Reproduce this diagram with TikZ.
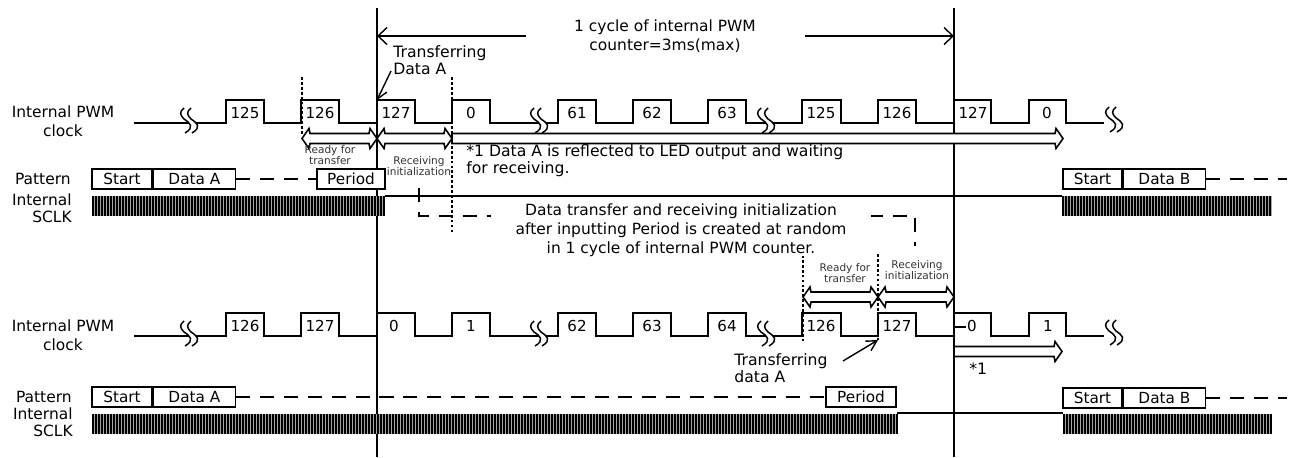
\documentclass[tikz,border=0pt]{standalone}
\usepackage{fontspec}
\setmainfont{DejaVu Sans}
\usetikzlibrary{arrows.meta,positioning,calc}
\tikzset{
  lbl/.style={inner sep=0pt,align=center,font=\fontsize{8.8}{10.8}\selectfont},
  leftlbl/.style={lbl,align=left,anchor=west,font=\fontsize{8.9}{9.6}\selectfont},
  tinylbl/.style={inner sep=0pt,align=center,text=black!80,font=\fontsize{6}{6.2}\selectfont},
  cnt/.style={inner sep=0pt,font=\fontsize{8.6}{10}\selectfont},
  wave/.style={line width=.8pt},
  vline/.style={line width=.8pt},
  dotline/.style={line width=.75pt,dash pattern=on 1.6pt off 1.2pt},
  gapline/.style={line width=.8pt,dash pattern=on 8pt off 5.6pt},
  dimarrow/.style={line width=.8pt,-{Straight Barb[length=.18cm,width=.34cm]}},
  ptr/.style={line width=.8pt,-{Straight Barb[length=.2cm,width=.22cm]}},
  hollow/.style={line width=.9pt,fill=white},
  datbox/.style={draw,fill=white,line width=.8pt,inner sep=0pt,minimum height=.4cm,font=\fontsize{8.7}{10}\selectfont},
  squig/.pic={
    \fill[white] (-6,-13) .. controls (-11,-9) and (-10,-6) .. (-6,-2) .. controls (0,2) and (5,6) .. (-5,12) -- (2,12) .. controls (12,6) and (7,2) .. (1,-2) .. controls (-3,-6) and (-4,-9) .. (1,-13) -- cycle;
    \draw[line width=.85pt] (-6,-13) .. controls (-11,-9) and (-10,-6) .. (-6,-2) .. controls (0,2) and (5,6) .. (-5,12);
    \draw[line width=.85pt] (1,-13) .. controls (-4,-9) and (-3,-6) .. (1,-2) .. controls (7,2) and (12,6) .. (2,12);
  }
}
\newcommand{\sclk}[3]{%
  \fill[black!35] (#1,#3) rectangle (#2,#3+20);
  \pgfmathsetmacro{\sclkb}{#1+3}
  \foreach \x in {#1,\sclkb,...,#2} \draw[line width=.65pt] (\x,#3) -- (\x,#3+20);
}
\newcommand{\harrowboth}[2]{%
  \draw[hollow] (#1) -- ($(#1)+(7,-10)$) -- ($(#1)+(8,-5)$) -- ($(#2)+(-8,-5)$) -- ($(#2)+(-7,-10)$) -- (#2) -- ($(#2)+(-7,10)$) -- ($(#2)+(-8,5)$) -- ($(#1)+(8,5)$) -- ($(#1)+(7,10)$) -- cycle;
}
\newcommand{\harrowright}[2]{%
  \draw[hollow] ($(#1)+(0,-5)$) -- ($(#2)+(-8,-5)$) -- ($(#2)+(-7,-10)$) -- (#2) -- ($(#2)+(-7,10)$) -- ($(#2)+(-8,5)$) -- ($(#1)+(0,5)$) -- cycle;
}
\begin{document}
\begin{tikzpicture}[x=.02cm,y=-.02cm]
\useasboundingbox (0,0) rectangle (1290,457);
% cycle borders
\coordinate (At) at (377,8);
\coordinate (Ab) at (377,457);
\coordinate (Bt) at (954,8);
\coordinate (Bb) at (954,457);
\draw[vline] (At) -- (Ab);
\draw[vline] (Bt) -- (Bb);
% upper clock
\draw[wave] (134,123) -- (226,123) |- (264,100) |- (301,123) |- (339,100) |- (377,123) |- (415,100) |- (452,123) |- (490,100) |- (558,123) |- (596,100) |- (633,123) |- (671,100) |- (708,123) |- (746,100) |- (802,123) |- (841,100) |- (878,123) |- (916,100) |- (954,123) |- (991,100) |- (1029,123) |- (1066,100) |- (1104,123);
\foreach \x/\t [count=\i] in {245/125,320/126,396/127,471/0,577/61,652/62,727/63,821/125,897/126,973/127,1047/0}
  \node[cnt] (up\i) at (\x,113) {\t};
\path (190,121) pic {squig};
\path (540,121) pic {squig};
\path (767,121) pic {squig};
\path (1115,120) pic {squig};
% lower clock
\draw[wave] (134,336) -- (226,336) |- (264,313) |- (301,336) |- (339,313) |- (377,336) |- (415,313) |- (452,336) |- (490,313) |- (558,336) |- (596,313) |- (633,336) |- (671,313) |- (708,336) |- (746,313) |- (802,336) |- (841,313) |- (878,336) |- (916,313) |- (954,336) |- (991,313) |- (1029,336) |- (1066,313) |- (1104,336);
\foreach \x/\t [count=\i] in {245/126,320/127,394/0,471/1,577/62,652/63,727/64,821/126,897/127,972/0,1048/1}
  \node[cnt] (lo\i) at (\x,326) {\t};
\path (190,334) pic {squig};
\path (540,334) pic {squig};
\path (767,334) pic {squig};
\path (1115,333) pic {squig};
\draw[wave] (954,327) -- (966,327);
% dotted marks
\draw[dotline] (302,77) -- (302,134);
\draw[dotline] (452,77) -- (452,232);
\draw[dotline] (803,255) -- (803,343);
\draw[dotline] (878,254) -- (878,342);
% left labels
\node[lbl] (pwma) at (63,121) {Internal PWM\\clock};
\node[lbl] (pwmb) at (63,335) {Internal PWM\\clock};
\node[lbl,anchor=east] (pata) at (71,179) {Pattern};
\node[lbl,anchor=east] (patb) at (72,397) {Pattern};
\node[lbl,anchor=east,align=right,font=\fontsize{8.8}{9.6}\selectfont] (scka) at (72,208) {Internal\\SCLK};
\node[lbl,anchor=east,align=right,font=\fontsize{8.8}{9.6}\selectfont] (sckb) at (73,422) {Internal\\SCLK};
% upper SCLK
\sclk{93}{385}{196}
\draw[wave] (385,196) -- (1062,196);
\sclk{1063}{1272}{196}
% lower SCLK
\sclk{93}{897}{414}
\draw[wave] (897,413) -- (1063,413);
\sclk{1064}{1272}{414}
% random transfer note
\draw[gapline] (419,188) -- (419,216) -- (915,216) -- (915,246);
\node[lbl,fill=white,inner xsep=.5cm] (rnd) at (681,230) {Data transfer and receiving initialization\\after inputting Period is created at random\\in 1 cycle of internal PWM counter.};
% upper pattern
\node[datbox,minimum width=1.2cm] (sa) at (122,179) {Start};
\node[datbox,minimum width=1.64cm,right=0pt of sa] (da) {Data A};
\node[datbox,minimum width=1.36cm] (pa) at (351,179) {Period};
\draw[gapline] (da.east) -- (pa.west);
\node[datbox,minimum width=1.18cm] (sb) at (1092.5,179) {Start};
\node[datbox,minimum width=1.64cm,right=0pt of sb] (db) {Data B};
\coordinate (dbe) at (1287,179);
\draw[gapline] (db.east) -- (dbe);
% lower pattern
\node[datbox,minimum width=1.2cm] (sc) at (122,397) {Start};
\node[datbox,minimum width=1.64cm,right=0pt of sc] (dc) {Data A};
\node[datbox,minimum width=1.4cm] (pc) at (861,397) {Period};
\draw[gapline] (dc.east) -- (pc.west);
\node[datbox,minimum width=1.18cm] (sd) at (1092.5,398) {Start};
\node[datbox,minimum width=1.64cm,right=0pt of sd] (dd) {Data B};
\coordinate (dde) at (1287,398);
\draw[gapline] (dd.east) -- (dde);
% cycle length
\node[lbl] (cyc) at (665,36) {1 cycle of internal PWM\\counter=3ms(max)};
\coordinate (cl) at (526,36);
\coordinate (cr) at (805,36);
\draw[dimarrow] (cl) -- (At |- cl);
\draw[dimarrow] (cr) -- (Bt |- cr);
% hollow arrows
\coordinate (u1) at (302,138.5);
\coordinate (u2) at (377,138.5);
\coordinate (u3) at (452,138.5);
\coordinate (u4) at (1063,138.5);
\harrowboth{u1}{u2}
\harrowboth{u2}{u3}
\harrowright{u3}{u4}
\coordinate (l1) at (803,297);
\coordinate (l2) at (878,297);
\coordinate (l3) at (954,297);
\coordinate (l4) at (954,351.5);
\coordinate (l5) at (1062,351.5);
\harrowboth{l1}{l2}
\harrowboth{l2}{l3}
\harrowright{l4}{l5}
% small labels
\node[tinylbl] (rfa) at (330,155) {Ready for\\transfer};
\node[tinylbl] (ria) at (419,166) {Receiving\\initialization};
\node[tinylbl] (rfb) at (845,273) {Ready for\\transfer};
\node[tinylbl] (rib) at (917,270) {Receiving\\initialization};
% notes
\node[leftlbl] (tra) at (393,60) {Transferring\\Data A};
\coordinate (tp) at (377,100);
\coordinate (ts) at (391,71);
\draw[ptr] (ts) -- (tp);
\node[leftlbl] (trb) at (734,368) {Transferring\\data A};
\coordinate (bp) at (878,340);
\coordinate (bs) at (843,361);
\draw[ptr] (bs) -- (bp);
\node[leftlbl] (nta) at (466,161) {*1 Data A is reflected to LED output and waiting\\for receiving.};
\node[leftlbl] (ntb) at (969,369) {*1};
\end{tikzpicture}
\end{document}
